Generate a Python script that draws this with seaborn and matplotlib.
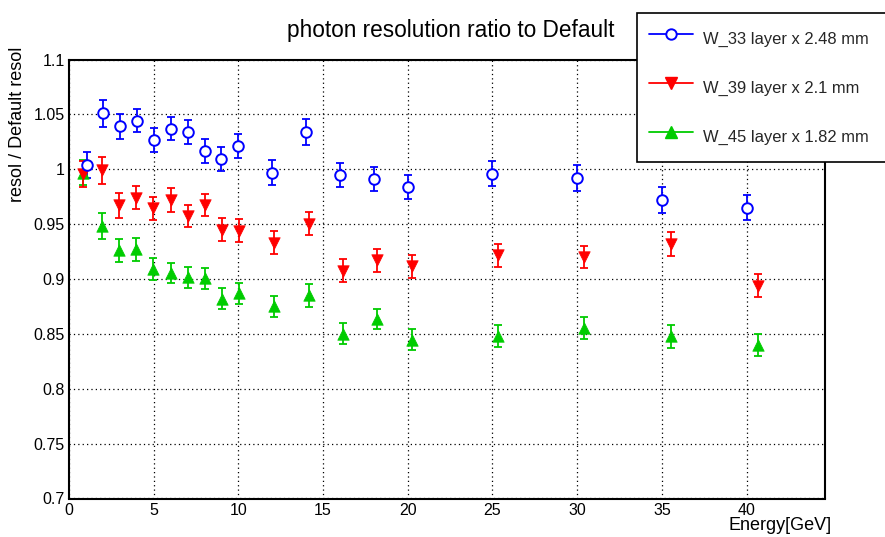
import numpy as np
import pandas as pd
import matplotlib
matplotlib.use("Agg")
import matplotlib.pyplot as plt
from matplotlib.lines import Line2D
from matplotlib.ticker import MultipleLocator, FixedLocator, FixedFormatter
import seaborn as sns

# ---------------- data ----------------
series_names = ["W_33 layer x 2.48 mm", "W_39 layer x 2.1 mm", "W_45 layer x 1.82 mm"]

energy_w33 = [1.05, 2, 3, 4, 5, 6, 7, 8, 9, 10, 12, 14, 16, 18, 20, 25, 30, 35, 40]
ratio_w33 = [1.004, 1.051, 1.039, 1.044, 1.027, 1.037, 1.034, 1.017, 1.009, 1.021,
             0.997, 1.034, 0.995, 0.991, 0.984, 0.996, 0.992, 0.972, 0.965]
err_w33 = [0.012, 0.0125, 0.0115, 0.0105, 0.011, 0.0105, 0.011, 0.011, 0.011, 0.011,
           0.011, 0.0115, 0.011, 0.011, 0.011, 0.0115, 0.0115, 0.0115, 0.0115]

energy_w39 = [0.85, 1.93, 2.93, 3.96, 4.98, 6.0, 7.0, 8.01, 9.06, 10.06,
              12.09, 14.14, 16.17, 18.19, 20.24, 25.34, 30.42, 35.54, 40.66]
ratio_w39 = [0.9955, 0.999, 0.967, 0.974, 0.9645, 0.972, 0.9575, 0.9675, 0.945, 0.944,
             0.933, 0.9505, 0.9075, 0.917, 0.9115, 0.9215, 0.920, 0.932, 0.894]
err_w39 = [0.012, 0.012, 0.011, 0.0105, 0.0103, 0.0105, 0.0103, 0.010, 0.0103, 0.0105,
           0.0103, 0.0103, 0.0105, 0.0102, 0.0106, 0.0106, 0.0103, 0.011, 0.0103]

energy_w45 = [0.85, 1.93, 2.93, 3.96, 4.98, 6.0, 7.0, 8.01, 9.06, 10.06,
              12.09, 14.14, 16.17, 18.19, 20.24, 25.34, 30.42, 35.54, 40.66]
ratio_w45 = [0.997, 0.948, 0.926, 0.927, 0.909, 0.9055, 0.9015, 0.9005, 0.882, 0.887,
             0.875, 0.885, 0.850, 0.8635, 0.8445, 0.848, 0.8555, 0.848, 0.840]
err_w45 = [0.011, 0.0117, 0.0108, 0.0102, 0.010, 0.0092, 0.0097, 0.0097, 0.0097, 0.0098,
           0.0098, 0.0101, 0.0095, 0.0095, 0.0095, 0.0097, 0.0098, 0.0105, 0.0098]

xtick_values = [0, 5, 10, 15, 20, 25, 30, 35, 40]
xtick_labels = ["0", "5", "10", "15", "20", "25", "30", "35", "40"]
ytick_values = [0.7, 0.75, 0.8, 0.85, 0.9, 0.95, 1.0, 1.05, 1.1]
ytick_labels = ["0.7", "0.75", "0.8", "0.85", "0.9", "0.95", "1", "1.05", "1.1"]

title_text = "photon resolution ratio to Default"
xlabel_text = "Energy[GeV]"
ylabel_text = "resol / Default resol"

# ---------------- style ----------------
sns.set_theme(style="white")
plt.rcParams["font.family"] = ["Liberation Sans", "DejaVu Sans"]

W, H = 885, 537
fig = plt.figure(figsize=(W / 100, H / 100), dpi=100)
fig.patch.set_facecolor("white")

left, right, top, bottom = 69, 824.5, 59.5, 498.5
ax = fig.add_axes([left / W, 1 - bottom / H, (right - left) / W, (bottom - top) / H])
ax.set_facecolor("white")

colors = ["#0000ff", "#ff0000", "#00cc00"]
markers = ["o", "v", "^"]

frames = []
for name, e, r, er in [(series_names[0], energy_w33, ratio_w33, err_w33),
                       (series_names[1], energy_w39, ratio_w39, err_w39),
                       (series_names[2], energy_w45, ratio_w45, err_w45)]:
    frames.append(pd.DataFrame({"energy": e, "ratio": r, "err": er, "series": name}))
df = pd.concat(frames, ignore_index=True)

# draw in order green, red, blue so blue sits on top (like reference)
for idx in [2, 1, 0]:
    name = series_names[idx]
    d = df[df["series"] == name]
    ax.errorbar(d["energy"], d["ratio"], yerr=d["err"], fmt="none",
                ecolor=colors[idx], elinewidth=1.3, capsize=2.6, capthick=1.3, zorder=3)
    if idx == 0:
        sns.scatterplot(data=d, x="energy", y="ratio", ax=ax, marker="o", s=58,
                        color=colors[idx], facecolor="white", edgecolor=colors[idx],
                        linewidth=1.4, zorder=4, legend=False)
    else:
        sns.scatterplot(data=d, x="energy", y="ratio", ax=ax, marker=markers[idx], s=68,
                        color=colors[idx], edgecolor=colors[idx], linewidth=0.5,
                        zorder=4, legend=False)

ax.set_xlim(0, 44.6)
ax.set_ylim(0.7, 1.1)

ax.xaxis.set_major_locator(FixedLocator(xtick_values))
ax.xaxis.set_major_formatter(FixedFormatter(xtick_labels))
ax.xaxis.set_minor_locator(MultipleLocator(1))
ax.yaxis.set_major_locator(FixedLocator(ytick_values))
ax.yaxis.set_major_formatter(FixedFormatter(ytick_labels))
ax.yaxis.set_minor_locator(MultipleLocator(0.01))

ax.tick_params(axis="both", which="both", direction="in", colors="black",
               labelsize=11.5, top=False, right=False)
ax.tick_params(axis="y", which="major", length=15.8, width=1.1, pad=3)
ax.tick_params(axis="y", which="minor", length=8.4, width=1.1)
ax.tick_params(axis="x", which="major", length=8.4, width=1.1, pad=3)
ax.tick_params(axis="x", which="minor", length=4.8, width=1.1)

ax.grid(True, which="major", color="black", linestyle=(0, (1, 2.5)), linewidth=0.9)
ax.set_axisbelow(True)
for sp in ax.spines.values():
    sp.set_visible(True)
    sp.set_color("black")
    sp.set_linewidth(1.5)

ax.set_xlabel("")
ax.set_ylabel("")

fig.text(450.4 / W, 1 - 36.7 / H, title_text, ha="center", va="baseline",
         fontsize=16.3, color="black")
fig.text(831.7 / W, 1 - 530.5 / H, xlabel_text, ha="right", va="baseline",
         fontsize=13, color="black")
fig.text(18 / W, 1 - 46.7 / H, ylabel_text, ha="center", va="top", rotation=90,
         fontsize=13, color="black")

handles = [Line2D([0], [0], color=colors[0], lw=1.3, marker="o", markersize=7.5,
                  markerfacecolor="white", markeredgecolor=colors[0], markeredgewidth=1.4),
           Line2D([0], [0], color=colors[1], lw=1.3, marker="v", markersize=8,
                  markerfacecolor=colors[1], markeredgecolor=colors[1]),
           Line2D([0], [0], color=colors[2], lw=1.3, marker="^", markersize=8,
                  markerfacecolor=colors[2], markeredgecolor=colors[2])]
leg_top = 12.7
leg_bottom = 160
leg = fig.legend(handles, series_names, loc="upper left",
                 bbox_to_anchor=(636.7 / W, 1 - leg_bottom / H, (W - 636.7 + 3) / W,
                                 (leg_bottom - leg_top) / H),
                 mode="expand", borderaxespad=0, borderpad=0.72, labelspacing=1.31,
                 handleheight=2.18, handlelength=2.67, handletextpad=0.6, fontsize=11.9,
                 frameon=True, fancybox=False, framealpha=1, edgecolor="black",
                 facecolor="white")
leg.get_frame().set_linewidth(1.2)

fig.savefig("out.png", dpi=100)
